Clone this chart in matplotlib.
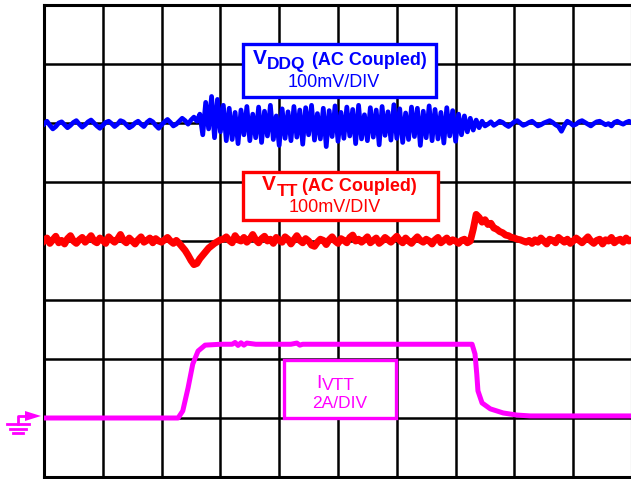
import numpy as np
import matplotlib
matplotlib.use('Agg')
import matplotlib.pyplot as plt
from matplotlib import rcParams, transforms
from matplotlib.patches import Rectangle, Polygon
from matplotlib.lines import Line2D

rcParams['font.family'] = ['Liberation Sans', 'DejaVu Sans']

# scope screen: 10 x 8 divisions
n_xdiv, n_ydiv = 10, 8
vddq_scale = 100.0   # mV/div
vtt_scale = 100.0    # mV/div
ivtt_scale = 2.0     # A/div
vddq_ref, vtt_ref, ivtt_ref = 6.0, 4.0, 1.0   # trace zero levels (div)

# VDDQ (AC coupled), mV, one sample every 0.05 div
vddq_mv = [-2, 3, -4, -10, -6, 0, 2, -3, -8, -4,
           1, 4, -2, -7, -3, 2, 5, 0, -5, -9,
           -4, 1, 3, -1, -6, -2, 4, 2, -3, -8,
           -5, 0, 3, -2, -6, 1, 5, 2, -4, -9,
           -3, 2, 6, 1, -5, -2, 3, 8, 4, -2,
           5, 10, 3,
           15, -20, 35, -10, 45, -25, 40, -15, 30, -30,
           25, -28, 18, -35, 22, -20, 28, -30, 15, -25,
           27, -33, 20, -22, 30, -28, 12, -38, 24, -26,
           19, -30, 28, -24, 22, -36, 26, -20, 30, -29,
           16, -27, 25, -40, 21, -23, 29, -31, 18, -26,
           27, -22, 23, -35, 30, -27, 14, -30, 26, -24,
           22, -37, 28, -21, 19, -29, 31, -26, 24, -33,
           17, -28, 27, -23, 25, -38, 20, -25, 29, -30,
           23, -27, 18, -34, 26, -22, 21, -31, 15, -20,
           12, -15, 8, -12, 5, -8, 3, -5,
           -2, 2, -4, -1, 3, 1, -3, -6, -2, 2,
           4, 0, -4, -2, 1, 3, -1, -5, -3, 0,
           2, 4, 1, -3, -6, -14, -4, 3, 0, -4,
           -2, 2, 4, 1, -2, -5, -1, 2, 3, 0,
           -3, -1, -5, 1, 3, 0, -2, 1, 3, 0]

# VTT (AC coupled), mV, one sample every 0.05 div
vtt_mv = [0, 5, -4, 2, 8, -3, 1, -5, 4, 9,
          0, -4, 2, 6, -2, 3, 9, 0, -3, 5,
          1, -4, 7, 2, -2, 3, 11, 1, -3, 5,
          0, -5, 2, 7, -2, 1, 5, -3, 4, 0,
          -2, 2, 6, 0, -4, 1,
          -4, -10, -16, -24, -33, -40, -38, -30, -24, -18, -12, -8, -4, -1, 2,
          3, 7, 1, -3, 9, 2, 0, 6, -2, 3,
          11, 2, -3, 4, 8, 0, 3, -4, 6, 1,
          -2, 7, 3, -5, 2, 9, 1, -3, 4, 0,
          -7, -9, -2, 3, 1, -6, 2, 7, 0, -4,
          4, 1, -3, 6, 10, 0, 3, -2, 2, 7,
          -3, 1, 5, -4, 0, 6, 2, -2, 3, 8,
          1, -3, 5, 0, -4, 2, 7, 1, -2, 3,
          0, -5, 2, 6, -3, 1, 5, -2, 2, 0,
          -4, 1, 3, -3, 0,
          20, 45, 40, 32, 36, 28, 30, 22, 20, 16, 14, 10, 9, 6, 5, 3, 2, 0, -2, 1,
          -4, 2, -2, 5, 0, -5, 3, 1, -3, 6,
          2, -2, 3, -4, 0, 5, 1, -3, 2, 7,
          0, -4, 1, 3, -5, 2, 0, 6, -3, 1,
          3, -2, 5, 0, 2]

# IVTT load step, time in div, current in A
ivtt_t = [0.0, 2.28, 2.36, 2.45, 2.53, 2.62, 2.74, 3.0, 3.2, 3.25, 3.3, 3.35,
          3.4, 3.45, 3.6, 4.2, 4.3, 4.35, 4.4, 5.0, 6.0, 7.28, 7.33, 7.36,
          7.38, 7.45, 7.59, 7.81, 8.04, 8.27, 10.0]
ivtt_a = [0.0, 0.0, 0.24, 1.02, 1.83, 2.27, 2.47, 2.5, 2.5, 2.56, 2.46, 2.55,
          2.47, 2.54, 2.5, 2.5, 2.54, 2.47, 2.5, 2.5, 2.5, 2.5, 2.17, 1.49,
          0.92, 0.51, 0.31, 0.17, 0.10, 0.07, 0.07]

W, H = 631, 479
fig = plt.figure(figsize=(W / 100, H / 100), dpi=100)
ax = fig.add_axes([44 / W, 2 / H, 588 / W, 472 / H])
ax.set_xlim(0, n_xdiv)
ax.set_ylim(0, n_ydiv)
ax.set_xticks(range(n_xdiv + 1))
ax.set_yticks(range(n_ydiv + 1))
ax.tick_params(length=0, labelbottom=False, labelleft=False)
ax.grid(True, color='black', lw=1.8, zorder=1)
ax.set_axisbelow(True)
for s in ax.spines.values():
    s.set_linewidth(2.2)

t_vddq = np.linspace(0, n_xdiv, len(vddq_mv))
t_vtt = np.linspace(0, n_xdiv, len(vtt_mv))
ax.plot(t_vddq, vddq_ref + np.array(vddq_mv) / vddq_scale, color='#0000ff', lw=3.4, zorder=5)
ax.plot(t_vtt, vtt_ref + np.array(vtt_mv) / vtt_scale, color='#ff0000', lw=5.0, zorder=5)
ax.plot(ivtt_t, ivtt_ref + np.array(ivtt_a) / ivtt_scale, color='#ff00ff', lw=3.6, zorder=5,
        solid_capstyle='butt')

# pixel transform (origin top-left)
pix = transforms.Affine2D().scale(1 / 100, -1 / 100).translate(0, H / 100) + fig.dpi_scale_trans


def box(x0, y0, x1, y1, col):
    fig.patches.append(Rectangle((x0, y0), x1 - x0, y1 - y0, transform=pix, fill=True,
                                 facecolor='white', edgecolor=col, lw=2.4, zorder=3))


def txt(x, y, s, col, size, weight='normal', ha='left'):
    fig.text(x, y, s, transform=pix, color=col, fontsize=size, fontweight=weight,
             ha=ha, va='baseline', zorder=4)


blue, red, mag = '#0000ff', '#ff0000', '#ff00ff'

box(243, 44, 436, 97, blue)
txt(253, 64, 'V', blue, 15, 'bold')
txt(267, 69, 'DDQ', blue, 12.5, 'bold')
txt(312, 65, '(AC Coupled)', blue, 13, 'bold')
txt(334, 87, '100mV/DIV', blue, 13, ha='center')

box(243, 172, 438, 220, red)
txt(262, 190, 'V', red, 15, 'bold')
txt(277, 196, 'TT', red, 12.5, 'bold')
txt(302, 191, '(AC Coupled)', red, 13, 'bold')
txt(335, 212, '100mV/DIV', red, 13, ha='center')

box(284, 360, 396, 418, mag)
txt(316, 388, 'I', mag, 14)
txt(322, 390, 'VTT', mag, 12.5)
txt(340, 408, '2A/DIV', mag, 12.5, ha='center')

# ground marker for the current trace
for xs, ys in [((18, 18, 27), (424, 416, 416)), ((7, 29), (424, 424)),
               ((10, 26), (428.5, 428.5)), ((13, 23), (432.5, 432.5))]:
    fig.add_artist(Line2D(xs, ys, transform=pix, color=mag, lw=2.0))
fig.add_artist(Polygon([(25, 411), (25, 421), (41, 416)], closed=True, transform=pix,
                       facecolor=mag, edgecolor='none'))

fig.savefig('out.png', dpi=100)
